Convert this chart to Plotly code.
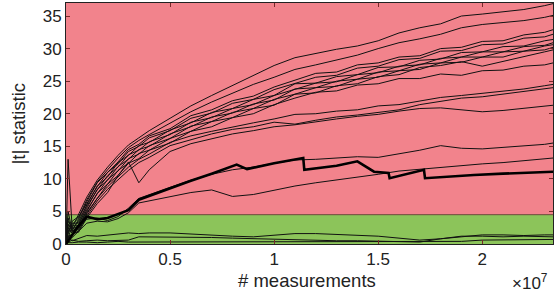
import plotly.graph_objects as go

# x positions in units of 10^7 measurements
X = [0, .01, .03, .06, .1, .15, .2, .25, .3, .35, .4, .5, .6, .7, .8, .9, 1.0,
     1.1, 1.2, 1.3, 1.4, 1.5, 1.6, 1.7, 1.8, 1.9, 2.0, 2.1, 2.2, 2.3, 2.34]

S1 = [0, 3.5, 2.5, 4.5, 7.2, 9.8, 11.8, 13.6, 15.2, 16.3, 17.4, 19.3, 21.2, 22.8, 24.3, 25.8, 27.4,
      28.6, 29.3, 29.9, 30.4, 31.2, 32.4, 33.2, 33.8, 35.0, 35.3, 35.6, 36.0, 36.6, 36.9]
S2 = [0, 2.0, 3.0, 4.0, 6.8, 9.5, 11.4, 13.2, 14.8, 15.9, 16.8, 18.6, 20.3, 21.8, 23.2, 24.5, 25.6,
      26.8, 27.5, 28.3, 29.0, 30.0, 30.9, 31.5, 32.2, 33.2, 33.7, 34.0, 34.3, 34.8, 35.1]
B1 = [0, 5.0, 2.0, 3.8, 6.5, 9.4, 11.0, 12.6, 14.5, 15.3, 16.6, 17.7, 19.7, 20.6, 22.0, 22.7, 24.1,
      25.2, 26.2, 26.4, 27.5, 27.8, 28.7, 28.9, 30.0, 30.2, 31.1, 31.2, 32.1, 32.5, 32.9]
B2 = [0, 1.5, 3.5, 4.2, 6.2, 8.8, 11.0, 12.3, 14.2, 15.0, 16.3, 17.4, 19.3, 20.1, 21.6, 22.2, 23.7,
      24.7, 25.6, 25.9, 27.0, 27.3, 28.3, 28.5, 29.6, 29.7, 30.6, 30.7, 31.6, 31.8, 32.2]
B3 = [0, 13.0, 2.2, 3.5, 6.0, 8.9, 10.3, 12.5, 13.6, 15.1, 15.6, 17.5, 18.6, 20.2, 20.8, 22.2, 22.8,
      24.6, 24.7, 25.7, 26.0, 27.1, 27.2, 28.2, 28.4, 29.4, 29.5, 30.3, 30.4, 31.2, 31.4]
B4 = [0, 2.5, 3.2, 3.2, 5.8, 8.3, 10.5, 11.8, 13.7, 14.4, 15.7, 16.8, 18.7, 19.4, 20.8, 21.4, 22.8,
      23.8, 24.7, 24.9, 26.0, 26.3, 27.3, 27.5, 28.5, 28.7, 29.5, 29.5, 30.3, 30.5, 30.9]
B5 = [0, 4.0, 1.8, 3.0, 5.5, 8.4, 9.8, 11.9, 13.0, 14.5, 15.0, 16.9, 18.0, 19.5, 20.1, 21.5, 22.1,
      23.8, 24.0, 25.0, 25.3, 26.4, 26.6, 27.6, 27.8, 28.7, 28.7, 29.5, 29.6, 30.4, 30.6]
B6 = [0, 1.0, 2.8, 2.8, 5.2, 7.7, 9.9, 11.2, 13.1, 13.8, 15.1, 16.2, 18.1, 18.8, 20.2, 20.8, 22.2,
      23.0, 24.0, 24.2, 25.3, 25.6, 26.6, 26.8, 27.8, 27.9, 28.7, 28.7, 29.6, 29.8, 30.2]
B7 = [0, 3.0, 2.4, 2.6, 5.0, 7.8, 9.2, 11.3, 12.4, 13.9, 14.4, 16.2, 17.3, 18.8, 19.4, 20.8, 21.3,
      23.0, 23.2, 24.3, 24.6, 25.7, 26.0, 27.1, 27.4, 28.0, 27.3, 28.0, 28.8, 29.5, 29.8]
B8 = [0, 2.0, 2.0, 2.4, 4.8, 7.1, 9.2, 10.5, 12.4, 13.1, 14.4, 15.5, 17.3, 18.0, 19.4, 20.0, 21.4,
      22.4, 23.3, 23.5, 24.4, 24.6, 25.4, 25.4, 26.1, 25.9, 26.6, 26.7, 27.3, 27.5, 27.8]
M1 = [0, 3.0, 2.0, 2.2, 4.6, 7.0, 8.8, 10.3, 11.8, 13.0, 13.8, 15.6, 16.6, 17.3, 18.0, 18.6, 19.2,
      19.9, 20.0, 20.4, 20.6, 21.2, 21.4, 22.0, 22.5, 22.8, 23.1, 23.5, 23.8, 24.3, 24.5]
M2 = [0, 1.2, 1.5, 2.0, 4.3, 6.6, 8.4, 9.9, 11.3, 12.5, 13.3, 15.1, 16.0, 16.9, 17.6, 18.0, 18.7,
      18.4, 19.0, 19.5, 19.8, 20.2, 20.6, 21.4, 21.9, 22.4, 22.6, 23.0, 23.4, 23.8, 24.0]
M3 = [0, 2.5, 1.6, 1.8, 4.0, 6.2, 7.9, 10.5, 12.6, 9.4, 11.4, 14.2, 15.4, 16.2, 16.9, 17.4, 18.0,
      18.3, 18.8, 19.2, 19.6, 19.9, 20.4, 20.8, 20.9, 20.6, 20.3, 20.5, 20.8, 21.2, 21.3]
L15 = [0, 1.0, 1.5, 2.5, 3.8, 4.0, 3.6, 4.2, 5.5, 7.0, 7.6, 8.7, 9.8, 10.7, 11.4, 11.8, 12.4,
       12.9, 13.0, 13.2, 13.4, 13.3, 13.8, 14.4, 15.1, 14.7, 14.6, 14.8, 15.1, 15.3, 15.5]
L13 = [0, 0.5, 1.0, 2.0, 3.2, 3.5, 3.4, 3.9, 4.8, 6.3, 6.6, 7.3, 7.9, 8.3, 7.3, 7.6, 8.3,
       8.9, 9.4, 9.8, 10.2, 10.7, 11.2, 11.5, 11.8, 12.1, 12.3, 12.5, 12.8, 13.1, 13.2]
G1 = [0, 1.0, 0.5, 0.8, 1.3, 1.2, 1.4, 1.5, 1.7, 1.6, 1.7, 1.7, 1.5, 1.3, 1.2, 1.1, 1.3,
      1.6, 1.6, 1.5, 1.4, 1.2, 0.9, 0.6, 0.8, 1.1, 1.4, 1.4, 1.3, 1.4, 1.4]
G2 = [0, 0.3, 0.6, 0.4, 0.5, 0.6, 0.5, 0.6, 0.6, 1.1, 1.1, 1.0, 1.1, 1.0, 0.9, 0.8, 0.7,
      0.6, 0.6, 0.5, 0.5, 0.4, 0.4, 0.3, 0.8, 1.2, 1.2, 1.1, 1.2, 1.1, 1.1]
G3 = [0, 0.2, 0.2, 0.3, 0.3, 0.2, 0.3, 0.4, 0.3, 0.3, 0.3, 0.4, 0.3, 0.3, 0.3, 0.4, 0.3,
      0.3, 0.3, 0.3, 0.3, 0.3, 0.3, 0.3, 0.4, 0.4, 0.6, 0.6, 0.7, 0.7, 0.7]

# thick series (own x positions, with sharp drops)
THICK_X = [0, .01, .03, .06, .1, .15, .2, .25, .3, .35, .4, .5, .6, .7, .82, .87, 1.0, 1.14, 1.145,
           1.3, 1.40, 1.48, 1.55, 1.555, 1.72, 1.725, 1.85, 1.96, 2.1, 2.2, 2.34]
THICK_Y = [0, .5, 1.5, 2.8, 4.2, 3.8, 4.0, 4.6, 5.2, 6.8, 7.4, 8.6, 9.7, 10.8, 12.2, 11.5, 12.4, 13.2, 11.4,
           12.0, 12.7, 11.1, 10.9, 10.1, 11.4, 10.1, 10.4, 10.6, 10.8, 10.9, 11.1]

THRESHOLD = 4.5
X_TICKS = [0, 0.5, 1, 1.5, 2]
X_TICK_TEXT = ["0", "0.5", "1", "1.5", "2"]
Y_TICKS = [0, 5, 10, 15, 20, 25, 30, 35]

thin = [S1, S2, B1, B2, B3, B4, B5, B6, B7, B8, M1, M2, M3, L15, L13, G1, G2, G3]

fig = go.Figure()
for s in thin:
    fig.add_trace(go.Scatter(x=X, y=s, mode="lines",
                             line=dict(color="#111111", width=1), hoverinfo="skip"))
fig.add_trace(go.Scatter(x=THICK_X, y=THICK_Y, mode="lines",
                         line=dict(color="#000000", width=2.6), hoverinfo="skip"))

PINK = "#f2838c"
GREEN = "#8cc45a"
fig.add_shape(type="rect", xref="x", yref="y", x0=0, x1=2.34, y0=0, y1=THRESHOLD,
              fillcolor=GREEN, line=dict(width=0), layer="below")
fig.add_shape(type="line", xref="x", yref="y", x0=0, x1=2.34, y0=THRESHOLD, y1=THRESHOLD,
              line=dict(color="#6a4a3a", width=1), layer="below")

font = "Liberation Sans, Arial, sans-serif"
fig.update_layout(
    width=558, height=296,
    margin=dict(l=66, r=5, t=3, b=52),
    paper_bgcolor="white", plot_bgcolor=PINK,
    showlegend=False,
    font=dict(family=font, size=17, color="#222222"),
    xaxis=dict(range=[0, 2.34], tickvals=X_TICKS, ticktext=X_TICK_TEXT,
               ticks="inside", ticklen=4, tickcolor="#7a2a2a", showgrid=False, zeroline=False,
               showline=True, linecolor="#222222", linewidth=1, mirror="ticks"),
    yaxis=dict(range=[0, 37], tickvals=Y_TICKS,
               ticks="inside", ticklen=4, tickcolor="#7a2a2a", showgrid=False, zeroline=False,
               showline=True, linecolor="#222222", linewidth=1, mirror="ticks"),
    annotations=[
        dict(text="# measurements", xref="paper", yref="paper", x=0.495, y=0,
             xanchor="center", yanchor="middle", yshift=-36, showarrow=False,
             font=dict(size=18.5)),
        dict(text="|t| statistic", xref="paper", yref="paper", x=0, y=0.5,
             xanchor="center", yanchor="middle", xshift=-48, textangle=-90, showarrow=False,
             font=dict(size=18.5)),
        dict(text="×10<sup>7</sup>", xref="paper", yref="paper", x=0.953, y=0,
             xanchor="center", yanchor="middle", yshift=-38, showarrow=False,
             font=dict(size=17)),
    ],
)

fig.write_html("out.html", config={"displayModeBar": False},
               post_script="document.body.style.margin='0';document.body.style.overflow='hidden';")
